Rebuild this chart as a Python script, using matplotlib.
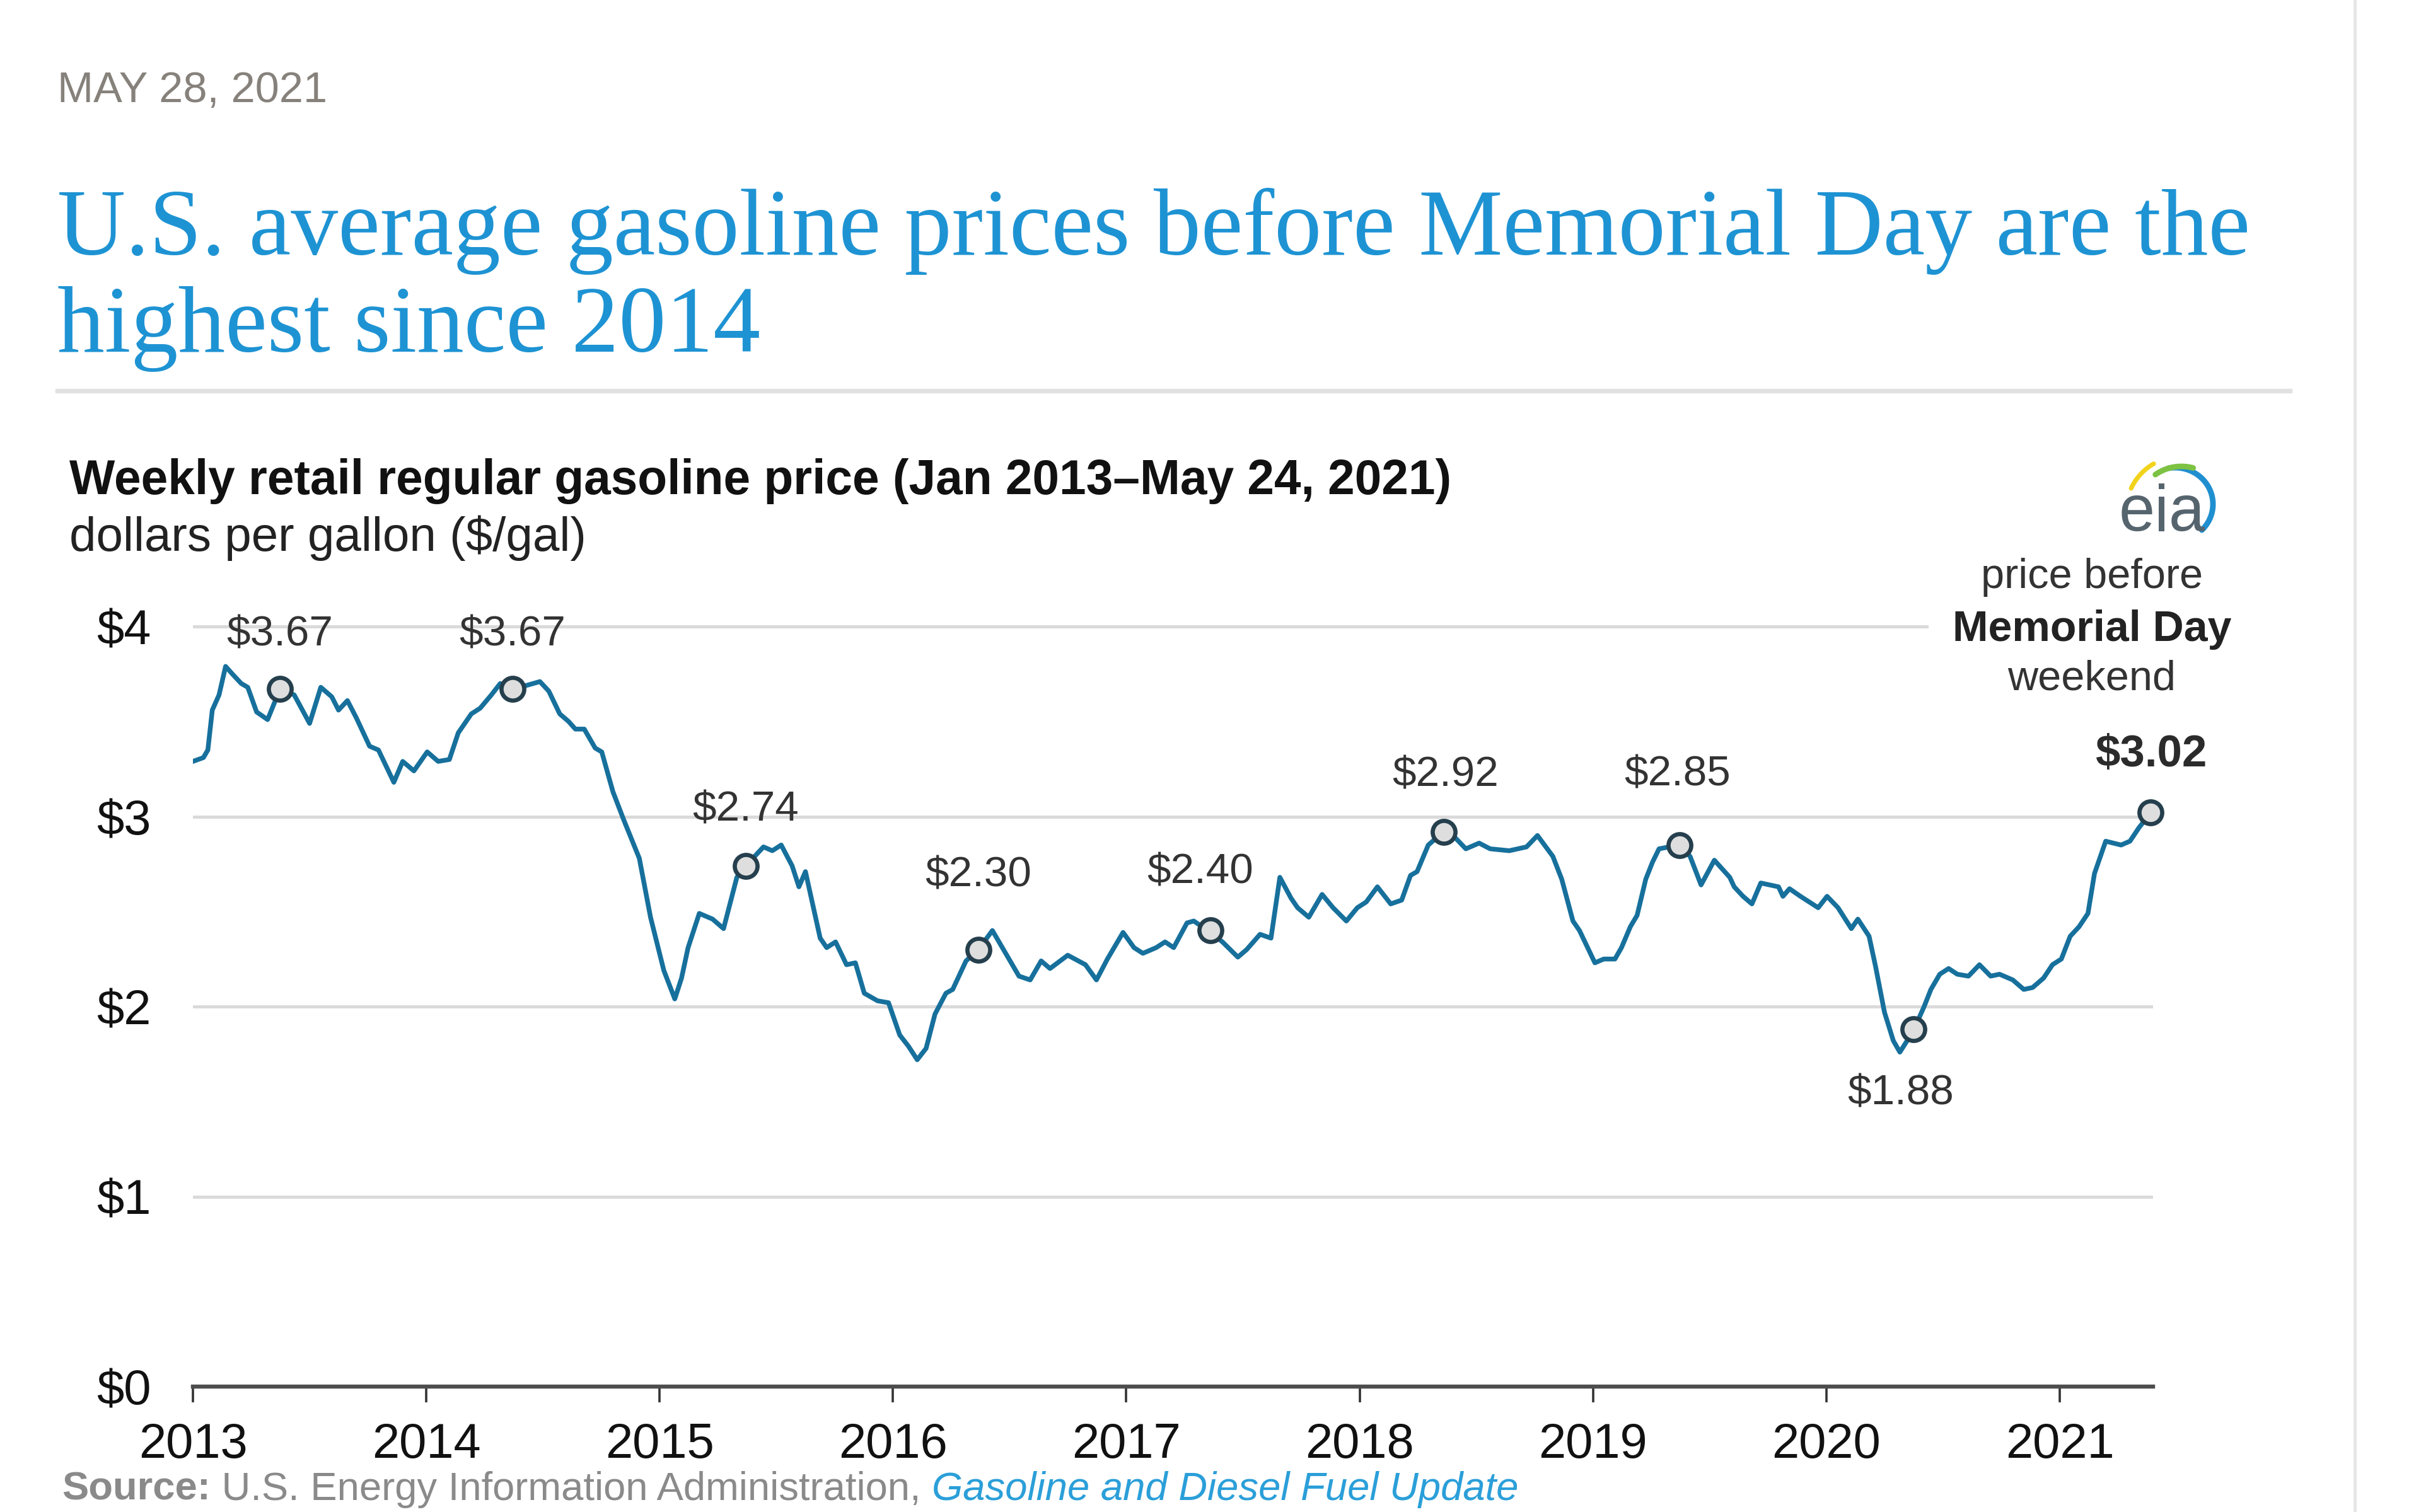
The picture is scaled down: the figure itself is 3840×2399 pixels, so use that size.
import numpy as np
import matplotlib
matplotlib.use('Agg')
import matplotlib.pyplot as plt
from matplotlib.lines import Line2D

plt.rcParams['text.parse_math'] = False

# ---------------- data ----------------
years = [
    2013.000, 2013.045, 2013.064, 2013.083, 2013.112, 2013.140, 2013.169, 2013.207, 2013.235, 2013.273,
    2013.320, 2013.373, 2013.434, 2013.500, 2013.548, 2013.595, 2013.624, 2013.662, 2013.700, 2013.757,
    2013.795, 2013.861, 2013.899, 2013.947, 2014.004, 2014.051, 2014.099, 2014.137, 2014.193, 2014.231,
    2014.279, 2014.317, 2014.370, 2014.430, 2014.487, 2014.525, 2014.572, 2014.610, 2014.639, 2014.677,
    2014.724, 2014.752, 2014.800, 2014.847, 2014.913, 2014.961, 2015.018, 2015.065, 2015.094, 2015.122,
    2015.170, 2015.227, 2015.274, 2015.331, 2015.369, 2015.445, 2015.483, 2015.521, 2015.568, 2015.597,
    2015.625, 2015.688, 2015.716, 2015.754, 2015.801, 2015.839, 2015.877, 2015.934, 2015.981, 2016.029,
    2016.067, 2016.104, 2016.142, 2016.180, 2016.227, 2016.256, 2016.313, 2016.366, 2016.426, 2016.483,
    2016.540, 2016.588, 2016.635, 2016.673, 2016.749, 2016.825, 2016.872, 2016.919, 2016.986, 2017.033,
    2017.071, 2017.128, 2017.166, 2017.203, 2017.260, 2017.289, 2017.361, 2017.412, 2017.478, 2017.516,
    2017.573, 2017.620, 2017.658, 2017.706, 2017.734, 2017.782, 2017.839, 2017.886, 2017.943, 2017.990,
    2018.028, 2018.076, 2018.133, 2018.180, 2018.218, 2018.246, 2018.294, 2018.360, 2018.408, 2018.455,
    2018.512, 2018.559, 2018.641, 2018.715, 2018.762, 2018.828, 2018.866, 2018.914, 2018.942, 2019.008,
    2019.046, 2019.094, 2019.122, 2019.160, 2019.189, 2019.226, 2019.255, 2019.283, 2019.370, 2019.416,
    2019.463, 2019.520, 2019.586, 2019.605, 2019.643, 2019.681, 2019.719, 2019.795, 2019.814, 2019.842,
    2019.889, 2019.965, 2020.003, 2020.050, 2020.107, 2020.135, 2020.183, 2020.211, 2020.249, 2020.287,
    2020.315, 2020.372, 2020.419, 2020.448, 2020.486, 2020.524, 2020.561, 2020.609, 2020.656, 2020.704,
    2020.742, 2020.799, 2020.846, 2020.884, 2020.931, 2020.969, 2021.007, 2021.045, 2021.083, 2021.121,
    2021.149, 2021.197, 2021.263, 2021.301, 2021.339, 2021.390,
]
prices = [
    3.29, 3.31, 3.35, 3.56, 3.64, 3.79, 3.75, 3.70, 3.68, 3.55,
    3.51, 3.67, 3.64, 3.49, 3.68, 3.63, 3.56, 3.61, 3.52, 3.37,
    3.35, 3.18, 3.29, 3.24, 3.34, 3.29, 3.30, 3.44, 3.54, 3.57,
    3.64, 3.70, 3.67, 3.69, 3.71, 3.66, 3.54, 3.50, 3.46, 3.46,
    3.36, 3.34, 3.13, 2.98, 2.78, 2.47, 2.19, 2.04, 2.15, 2.31,
    2.49, 2.46, 2.41, 2.68, 2.74, 2.84, 2.82, 2.85, 2.74, 2.63,
    2.71, 2.36, 2.31, 2.34, 2.22, 2.23, 2.07, 2.03, 2.02, 1.85,
    1.79, 1.72, 1.78, 1.96, 2.07, 2.09, 2.24, 2.30, 2.40, 2.28,
    2.16, 2.14, 2.24, 2.20, 2.27, 2.22, 2.14, 2.25, 2.39, 2.31,
    2.28, 2.31, 2.34, 2.31, 2.44, 2.45, 2.39, 2.34, 2.26, 2.30,
    2.38, 2.36, 2.68, 2.57, 2.52, 2.47, 2.59, 2.52, 2.45, 2.52,
    2.55, 2.63, 2.54, 2.56, 2.69, 2.71, 2.85, 2.92, 2.89, 2.83,
    2.86, 2.83, 2.82, 2.84, 2.90, 2.79, 2.67, 2.45, 2.40, 2.23,
    2.25, 2.25, 2.31, 2.42, 2.48, 2.67, 2.76, 2.83, 2.85, 2.79,
    2.64, 2.77, 2.68, 2.63, 2.58, 2.54, 2.65, 2.63, 2.58, 2.62,
    2.58, 2.52, 2.58, 2.52, 2.41, 2.46, 2.37, 2.21, 1.97, 1.82,
    1.76, 1.87, 2.00, 2.09, 2.17, 2.20, 2.17, 2.16, 2.22, 2.16,
    2.17, 2.14, 2.09, 2.10, 2.15, 2.22, 2.25, 2.37, 2.42, 2.49,
    2.70, 2.87, 2.85, 2.87, 2.94, 3.02,
]

memorial_years = [2013.373, 2014.370, 2015.369, 2016.366, 2017.361, 2018.360, 2019.370, 2020.372, 2021.390]
memorial_prices = [3.67, 3.67, 2.74, 2.30, 2.40, 2.92, 2.85, 1.88, 3.02]
memorial_labels = ['$3.67', '$3.67', '$2.74', '$2.30', '$2.40', '$2.92', '$2.85', '$1.88', '$3.02']

tick_years = [2013, 2014, 2015, 2016, 2017, 2018, 2019, 2020, 2021]
year_labels = ['2013', '2014', '2015', '2016', '2017', '2018', '2019', '2020', '2021']
y_levels = [0, 1, 2, 3, 4]
y_labels = ['$0', '$1', '$2', '$3', '$4']

# label offsets (points) relative to each marker
label_offsets = [(0, 31), (0, 31), (0, 32), (0, 42), (-6, 33), (1, 32), (-1, 40), (-7, -37), (0, 33)]

# ---------------- figure ----------------
W, H = 3840, 2399
DPI = 200
fig = plt.figure(figsize=(W / DPI, H / DPI), dpi=DPI)
fig.patch.set_facecolor('white')
R = fig.canvas.get_renderer()

def fx(px):
    return px / W

def fy(py):
    return 1 - py / H

SANS = ['Liberation Sans', 'DejaVu Sans']
SERIF = ['Liberation Serif', 'DejaVu Serif']

def fit(t, target):
    w = t.get_window_extent(R).width
    t.set_fontsize(t.get_fontsize() * target / w)
    return t.get_fontsize()

# ---------------- header ----------------
date = fig.text(fx(91), fy(162), 'MAY 28, 2021', color='#86817b', fontsize=22,
                family=SANS, va='baseline', ha='left')
fit(date, 428)

t1 = fig.text(fx(91), fy(404), 'U.S. average gasoline prices before Memorial Day are the',
              family=SERIF, color='#1e93d3', fontsize=57, va='baseline', ha='left')
fs = fit(t1, 3477)
fig.text(fx(91), fy(558), 'highest since 2014', family=SERIF, color='#1e93d3',
         fontsize=fs, va='baseline', ha='left')

fig.add_artist(Line2D([fx(91), fx(3632)], [fy(620), fy(620)], color='#e1e1e1', lw=2.6,
                      transform=fig.transFigure))
fig.add_artist(Line2D([fx(3735), fx(3735)], [0, 1], color='#e6e6e6', lw=1.8,
                      transform=fig.transFigure))

sub = fig.text(fx(110), fy(784), 'Weekly retail regular gasoline price (Jan 2013\u2013May 24, 2021)',
               family=SANS, weight='bold', color='#111111', fontsize=27, va='baseline', ha='left')
fit(sub, 2194)
units = fig.text(fx(110), fy(874), 'dollars per gallon ($/gal)', family=SANS, color='#222222',
                 fontsize=25, va='baseline', ha='left')
fit(units, 820)

# ---------------- axes ----------------
px_per_dollar = 301.5
ytop = 4.2
ax = fig.add_axes([fx(306), fy(2200), fx(3415) - fx(306), ytop * px_per_dollar / H])
ax.set_xlim(2013.0, 2021.40)
ax.set_ylim(0, ytop)
ax.set_facecolor('none')

for v in y_levels[1:]:
    ax.axhline(v, color='#dadada', lw=1.8, zorder=1)

ax.plot(years, prices, color='#17709c', lw=2.7, zorder=3,
        solid_joinstyle='round', solid_capstyle='round')
ax.plot(memorial_years, memorial_prices, 'o', ms=13, mfc='#dedede', mec='#253f4d',
        mew=2.4, zorder=4, clip_on=False)

for i, (xv, yv, lab) in enumerate(zip(memorial_years, memorial_prices, memorial_labels)):
    bold = (i == len(memorial_labels) - 1)
    ax.annotate(lab, (xv, yv), xytext=label_offsets[i], textcoords='offset points',
                ha='center', va='center', family=SANS, fontsize=25.5 if bold else 24.3,
                weight='bold' if bold else 'normal', color='#2b2b2b' if bold else '#333333',
                zorder=5, annotation_clip=False)

for s in ['left', 'right', 'top']:
    ax.spines[s].set_visible(False)
ax.spines['bottom'].set_color('#4d4d4d')
ax.spines['bottom'].set_linewidth(2.3)
ax.spines['bottom'].set_zorder(2)

ax.set_xticks(tick_years)
ax.set_xticklabels(year_labels, family=SANS)
ax.tick_params(axis='x', length=9, width=1.3, color='#333333', pad=11,
               labelsize=28, labelcolor='#111111', direction='out')
ax.set_yticks(y_levels)
ax.set_yticklabels(y_labels, family=SANS)
ax.tick_params(axis='y', length=0, pad=24, labelsize=28, labelcolor='#111111')

# ---------------- right-hand note ----------------
fig.text(fx(3318), fy(1017), 'Memorial Day', family=SANS, fontsize=24.5, weight='bold',
         color='#222222', ha='center', va='baseline', zorder=5,
         bbox=dict(boxstyle='square,pad=0.55', fc='white', ec='none'))
fig.text(fx(3318), fy(933), 'price before', family=SANS, fontsize=24, color='#333333',
         ha='center', va='baseline', zorder=7)
fig.text(fx(3318), fy(1095), 'weekend', family=SANS, fontsize=24, color='#333333',
         ha='center', va='baseline', zorder=7)

# ---------------- eia logo ----------------
lx0, lx1, ly0, ly1 = 3350, 3540, 715, 860
lax = fig.add_axes([fx(lx0), fy(ly1), fx(lx1) - fx(lx0), (ly1 - ly0) / H])
lax.set_xlim(lx0, lx1)
lax.set_ylim(ly1, ly0)
lax.axis('off')
lax.text(3429, 842, 'eia', family=SANS, fontsize=37, color='#56646e', ha='center',
         va='baseline')
th = np.radians(np.linspace(100, -45, 60))
lax.plot(3450 + 60 * np.cos(th), 800 - 58 * np.sin(th), color='#1f8fd0', lw=3.2,
         solid_capstyle='round')
th = np.radians(np.linspace(125, 75, 30))
lax.plot(3460 + 72 * np.cos(th), 812 - 72 * np.sin(th), color='#7dc242', lw=3.2,
         solid_capstyle='round')
th = np.radians(np.linspace(155, 120, 30))
lax.plot(3460 + 88 * np.cos(th), 812 - 88 * np.sin(th), color='#f2d31b', lw=2.6,
         solid_capstyle='round')

# ---------------- source ----------------
x = 98
parts = [
    ('Source:', dict(weight='bold', color='#8a8a8a', style='normal')),
    (' U.S. Energy Information Administration, ', dict(weight='normal', color='#8a8a8a', style='normal')),
    ('Gasoline and Diesel Fuel Update', dict(weight='normal', color='#2b9fd9', style='italic')),
]
for txt, kw in parts:
    t = fig.text(fx(x), fy(2380), txt, family=SANS, fontsize=22.8, va='baseline', ha='left', **kw)
    x += t.get_window_extent(R).width

fig.savefig('out.png', dpi=DPI, facecolor='white')
